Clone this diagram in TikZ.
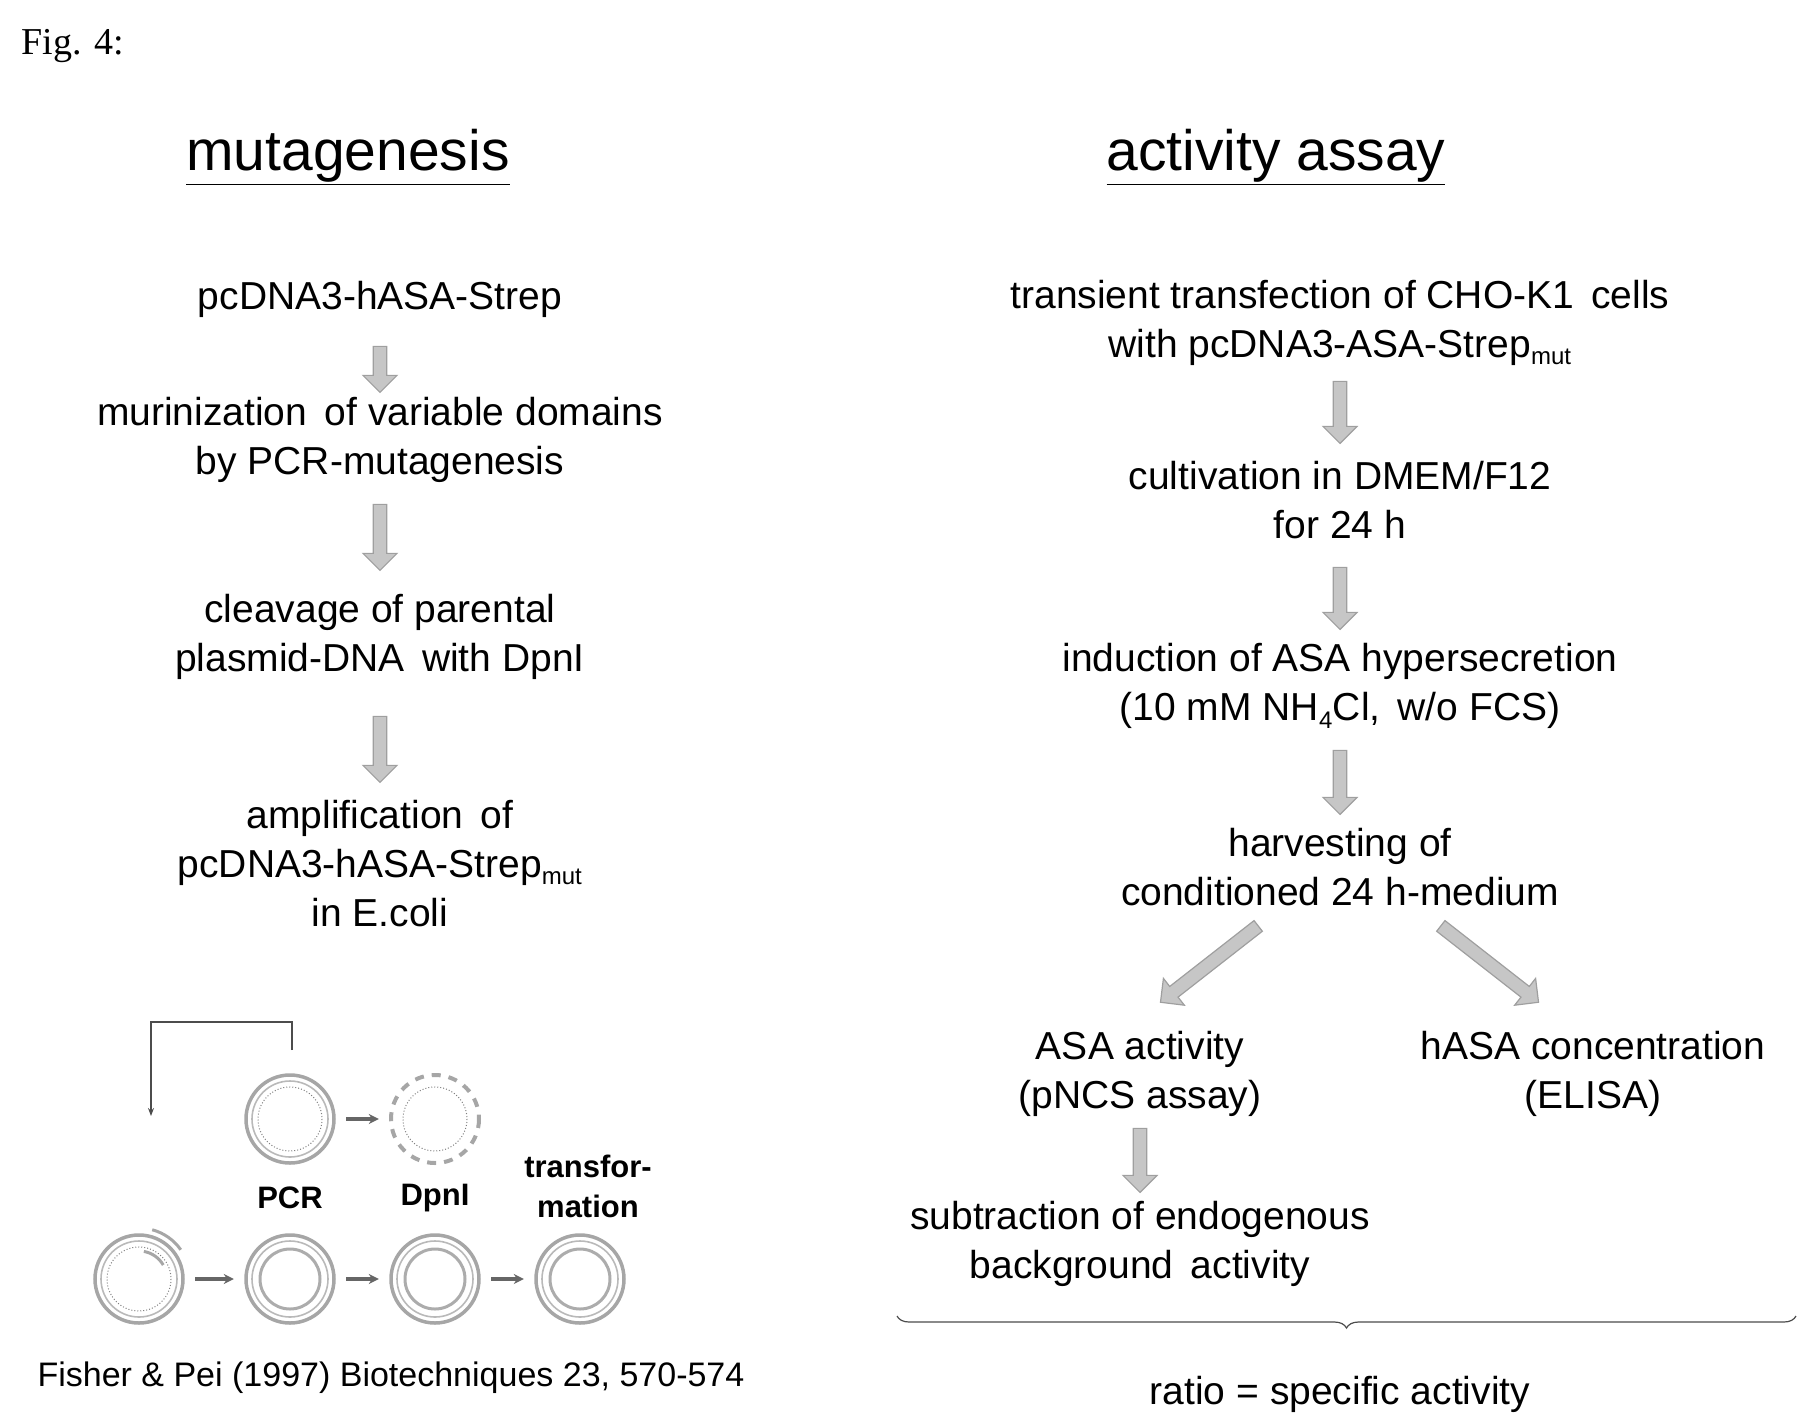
\documentclass[tikz,border=0pt]{standalone}
\usepackage{fontspec}
\setmainfont{Liberation Sans}
\newfontfamily\figfont{Liberation Serif}
\usetikzlibrary{shapes.arrows,arrows.meta,decorations.pathreplacing}
\begin{document}
\begin{tikzpicture}[x=1pt,y=-1pt,
  txt/.style={align=center,font=\fontsize{39}{49}\selectfont,inner sep=0pt},
  ttl/.style={font=\fontsize{57}{60}\selectfont,inner sep=0pt},
  garr/.style={single arrow,draw=gray!75,fill=gray!45,line width=1.2pt,minimum width=34pt,single arrow head extend=10pt,inner xsep=0pt,inner ysep=6pt,minimum height=#1},
  small/.style={-{Stealth[length=10pt,width=10pt]},line width=4pt,gray!80!black,shorten <=10pt,shorten >=10pt},
  lab/.style={font=\bfseries\fontsize{31}{40}\selectfont,align=center,inner sep=0pt},
  ringA/.style={gray!70,line width=3.5pt},
  ringB/.style={gray!55,line width=1.6pt},
  dots/.style={gray,line width=1pt,dotted}]
\useasboundingbox (0,0) rectangle (1809,1427);
\node[anchor=west,font=\figfont\fontsize{38}{40}\selectfont] (fig) at (18,46) {Fig. 4:};
\node[ttl] (mt) at (348,157) {\underline{mutagenesis}};
\node[ttl] (aa) at (1276,157) {\underline{activity assay}};
% left column
\node[txt] (l1) at (380,299) {pcDNA3-hASA-Strep};
\node[garr=46pt,rotate=-90] (la1) at (380,366) {};
\node[txt] (l2) at (380,440) {murinization\, of variable domains\\by PCR-mutagenesis};
\node[garr=66pt,rotate=-90] (la2) at (380,534) {};
\node[txt] (l3) at (380,637) {cleavage of parental\\plasmid-DNA\, with DpnI};
\node[garr=66pt,rotate=-90] (la3) at (380,746) {};
\node[txt] (l4) at (380,864) {amplification\, of\\pcDNA3-hASA-Strep\textsubscript{\fontsize{24}{24}\selectfont mut}\\in E.coli};
% plasmid sketch
\coordinate (bt) at (292,1050);
\coordinate (bl) at (151,1116);
\draw[gray!60!black,line width=2pt,-{Stealth[length=8pt,width=6pt]}] (bt) |- ++(0,-28) -| (bl);
\node[circle,minimum size=92pt,inner sep=0pt] (c1) at (290,1119) {};
\draw[ringA] (c1) circle (44); \draw[ringB] (c1) circle (38); \draw[dots] (c1) circle (32);
\node[circle,minimum size=92pt,inner sep=0pt] (c2) at (435,1119) {};
\draw[gray!70,line width=4pt,dash pattern=on 9pt off 8pt] (c2) circle (44); \draw[dots] (c2) circle (32);
\draw[small] (c1) -- (c2);
\node[lab] (pcr) at (290,1198) {PCR};
\node[lab] (dpn) at (435,1198) {DpnI};
\node[lab] (trf) at (588,1186) {transfor-\\mation};
\foreach \n/\x in {p1/139,p2/290,p3/435,p4/580}{
  \node[circle,minimum size=92pt,inner sep=0pt] (\n) at (\x,1279) {};
  \draw[ringA] (\n) circle (44); \draw[ringB] (\n) circle (38);}
\draw[dots] (p1) circle (32);
\draw[gray!70,line width=3pt] ([shift={(139,1279)}]-75:51) arc (-75:-35:51);
\draw[gray!70,line width=3pt] ([shift={(139,1279)}]-80:28) arc (-80:-30:28);
\foreach \n in {p2,p3,p4}{\draw[gray!65,line width=3pt] (\n) circle (30);}
\draw[small] (p1) -- (p2); \draw[small] (p2) -- (p3); \draw[small] (p3) -- (p4);
\node[font=\fontsize{34}{36}\selectfont,inner sep=0pt] (cit) at (391,1378) {Fisher \& Pei (1997) Biotechniques 23, 570-574};
% right column
\node[txt] (r1) at (1340,323) {transient transfection of CHO-K1\, cells\\with pcDNA3-ASA-Strep\textsubscript{\fontsize{24}{24}\selectfont mut}};
\node[garr=62pt,rotate=-90] (ra1) at (1340,409) {};
\node[txt] (r2) at (1340,500) {cultivation in DMEM/F12\\for 24 h};
\node[garr=62pt,rotate=-90] (ra2) at (1340,595) {};
\node[txt] (r3) at (1340,686) {induction of ASA hypersecretion\\(10 mM NH\textsubscript{\fontsize{24}{24}\selectfont 4}Cl,\, w/o FCS)};
\node[garr=64pt,rotate=-90] (ra3) at (1340,779) {};
\node[txt] (r4) at (1340,867) {harvesting of\\conditioned 24 h-medium};
\node[garr=124pt,rotate=-142] (rd1) at (1212,962) {};
\node[garr=124pt,rotate=-38] (rd2) at (1487,962) {};
\node[txt] (r5) at (1140,1074) {ASA activity\\(pNCS assay)};
\node[txt] (r6) at (1593,1074) {hASA concentration\\(ELISA)};
\node[garr=64pt,rotate=-90] (ra4) at (1140,1157) {};
\node[txt] (r7) at (1140,1244) {subtraction of endogenous\\background\, activity};
\draw[decorate,decoration={brace,mirror,amplitude=12pt},gray!60!black,line width=1.2pt] (897,1316) -- (1796,1316);
\node[txt] (r8) at (1340,1394) {ratio = specific activity};
\end{tikzpicture}
\end{document}
